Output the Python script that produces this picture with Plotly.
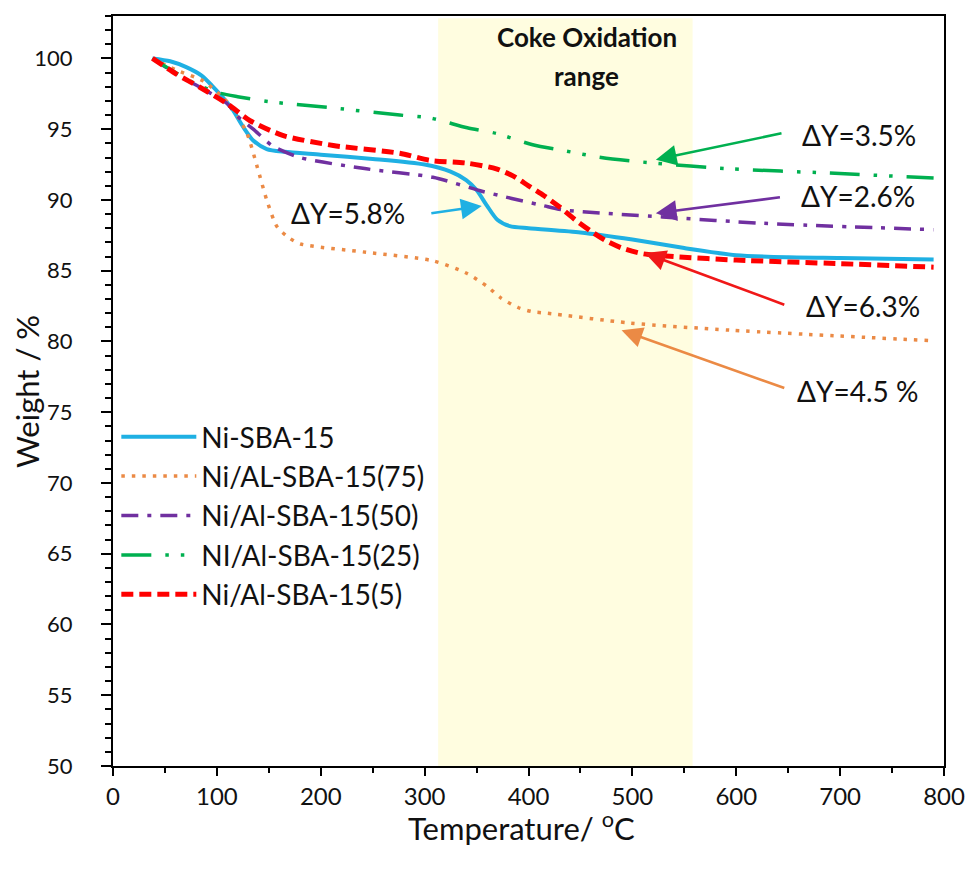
import plotly.graph_objects as go

# ---------------- data ----------------
t_ni = [38, 55, 70, 85, 95, 105, 115, 125, 135, 148, 165, 200, 250, 300, 325, 340, 350, 360, 370, 382, 400, 450, 500, 550, 600, 650, 700, 790]
w_ni = [100.0, 99.8, 99.4, 98.8, 98.1, 97.3, 96.4, 95.2, 94.2, 93.6, 93.4, 93.2, 92.9, 92.5, 92.0, 91.4, 90.7, 89.6, 88.6, 88.15, 88.0, 87.7, 87.2, 86.6, 86.1, 85.95, 85.9, 85.8]

t_75 = [38, 60, 87, 105, 115, 129, 139, 148, 158, 170, 180, 244, 308, 341, 360, 373, 390, 404, 418, 498, 594, 790]
w_75 = [100.0, 99.2, 98.4, 97.3, 96.5, 94.7, 92.3, 90.0, 88.1, 87.3, 86.9, 86.3, 85.7, 84.8, 83.9, 83.1, 82.4, 82.1, 82.0, 81.3, 80.8, 80.05]

t_50 = [38, 61, 84, 110, 120, 135, 154, 180, 244, 308, 356, 414, 433, 529, 626, 790]
w_50 = [100.0, 98.9, 97.95, 96.8, 95.9, 95.0, 93.8, 93.0, 92.2, 91.6, 90.6, 89.6, 89.3, 88.8, 88.35, 87.9]

t_25 = [38, 58, 80, 100, 120, 150, 212, 276, 305, 341, 369, 404, 433, 470, 514, 594, 690, 790]
w_25 = [100.0, 99.1, 98.2, 97.6, 97.3, 96.95, 96.5, 96.0, 95.8, 95.1, 94.7, 93.9, 93.5, 93.0, 92.65, 92.2, 91.9, 91.55]

t_5 = [38, 61, 84, 110, 132, 164, 212, 276, 305, 341, 369, 385, 400, 415, 430, 445, 460, 475, 490, 510, 540, 600, 700, 790]
w_5 = [100.0, 98.9, 97.95, 96.8, 95.6, 94.55, 93.85, 93.3, 92.8, 92.6, 92.2, 91.7, 91.0, 90.3, 89.5, 88.6, 87.8, 87.1, 86.6, 86.2, 86.0, 85.75, 85.5, 85.25]

series_names = ["Ni-SBA-15", "Ni/AL-SBA-15(75)", "Ni/Al-SBA-15(50)", "NI/Al-SBA-15(25)", "Ni/Al-SBA-15(5)"]

coke_range = [313, 558]
coke_label_x = 456
coke_label_lines = ["Coke Oxidation", "range"]

# annotation labels: text, text position, arrow tail, arrow head
delta_labels = ["ΔY=5.8%", "ΔY=3.5%", "ΔY=2.6%", "ΔY=6.3%", "ΔY=4.5 %"]
label_x = [226, 718, 717, 722, 717]
label_y = [89.05, 94.56, 90.25, 82.54, 76.5]
tail_x = [305, 645, 643.5, 647.7, 647.7]
tail_y = [89.05, 94.73, 90.2, 82.56, 76.67]
head_x = [355, 522.6, 522.6, 512, 489.6]
head_y = [89.57, 92.85, 89.06, 86.25, 80.79]

x_title = "Temperature/ <sup>o</sup>C"
y_title = "Weight / %"

# ---------------- styles ----------------
FONT = "Lato"
c_ni, c_75, c_50, c_25, c_5 = "#1FB0E3", "#EB8A45", "#7030A0", "#00B050", "#FF0000"

fig = go.Figure()
fig.add_trace(go.Scatter(x=t_ni, y=w_ni, mode="lines", name=series_names[0],
                         line=dict(color=c_ni, width=4, shape="spline", smoothing=0.7)))
fig.add_trace(go.Scatter(x=t_75, y=w_75, mode="lines", name=series_names[1],
                         line=dict(color=c_75, width=3.5, dash="3.5px,7px", shape="spline", smoothing=0.7)))
fig.add_trace(go.Scatter(x=t_50, y=w_50, mode="lines", name=series_names[2],
                         line=dict(color=c_50, width=3.5, dash="17px,9px,4px,9px", shape="spline", smoothing=0.7)))
fig.add_trace(go.Scatter(x=t_25, y=w_25, mode="lines", name=series_names[3],
                         line=dict(color=c_25, width=3.5, dash="30px,14px,3.5px,12px,3.5px,14px", shape="spline", smoothing=0.7)))
fig.add_trace(go.Scatter(x=t_5, y=w_5, mode="lines", name=series_names[4],
                         line=dict(color=c_5, width=5, dash="12px,6px", shape="spline", smoothing=0.7)))

# shaded coke oxidation range
fig.add_shape(type="rect", xref="x", yref="paper", x0=coke_range[0], x1=coke_range[1],
              y0=0, y1=0.997, fillcolor="#FFFDE0", line=dict(width=0), layer="below")

for k, line_text in enumerate(coke_label_lines):
    fig.add_annotation(x=coke_label_x, y=1.0, xref="x", yref="paper",
                       text="<b>" + line_text + "</b>", showarrow=False,
                       yanchor="middle", yshift=-21 - 39 * k,
                       font=dict(family=FONT, size=26, color="#111"))

arrow_colors = [c_ni, c_25, c_50, "#F01818", "#EB8A45"]
for i in range(len(delta_labels)):
    fig.add_annotation(x=label_x[i], y=label_y[i], xref="x", yref="y", text=delta_labels[i],
                       showarrow=False, font=dict(family=FONT, size=28, color="#111"))
    fig.add_annotation(x=head_x[i], y=head_y[i], ax=tail_x[i], ay=tail_y[i],
                       xref="x", yref="y", axref="x", ayref="y", text="",
                       showarrow=True, arrowhead=2, arrowsize=1.6, arrowwidth=2.6,
                       arrowcolor=arrow_colors[i])

# axis titles placed as annotations for exact positioning
fig.add_annotation(x=-0.1035, y=0.5, xref="paper", yref="paper", text=y_title,
                   textangle=-90, showarrow=False, xanchor="center", yanchor="middle",
                   font=dict(family=FONT, size=31, color="#111"))
fig.add_annotation(x=0.492, y=-0.08, xref="paper", yref="paper", text=x_title,
                   showarrow=False, xanchor="center", yanchor="middle",
                   font=dict(family=FONT, size=31, color="#111"))

axis_common = dict(showline=True, linewidth=2, linecolor="black", mirror=True,
                   showgrid=False, zeroline=False, ticks="outside", tickwidth=2,
                   tickcolor="black")

fig.update_xaxes(range=[0, 800], tick0=0, dtick=100, ticklen=8, ticklabelstandoff=0,
                 tickfont=dict(family=FONT, size=24, color="#111"),
                 minor=dict(dtick=50, ticks="outside", ticklen=5, tickwidth=2, tickcolor="black"),
                 **axis_common)
fig.update_yaxes(range=[50, 103], tick0=50, dtick=5, ticklen=10, ticklabelstandoff=24,
                 tickfont=dict(family=FONT, size=22, color="#111"),
                 minor=dict(dtick=1, ticks="outside", ticklen=6, tickwidth=2, tickcolor="black"),
                 **axis_common)

fig.update_layout(
    width=970, height=873,
    margin=dict(l=113, r=26, t=16, b=107, autoexpand=False),
    plot_bgcolor="white", paper_bgcolor="white",
    font=dict(family=FONT, color="#111"),
    showlegend=True,
    legend=dict(x=0.004, y=0.472, xanchor="left", yanchor="top", bgcolor="rgba(0,0,0,0)",
                font=dict(family=FONT, size=28, color="#111"), itemwidth=75,
                tracegroupgap=0),
)

fig.write_html("out.html")
